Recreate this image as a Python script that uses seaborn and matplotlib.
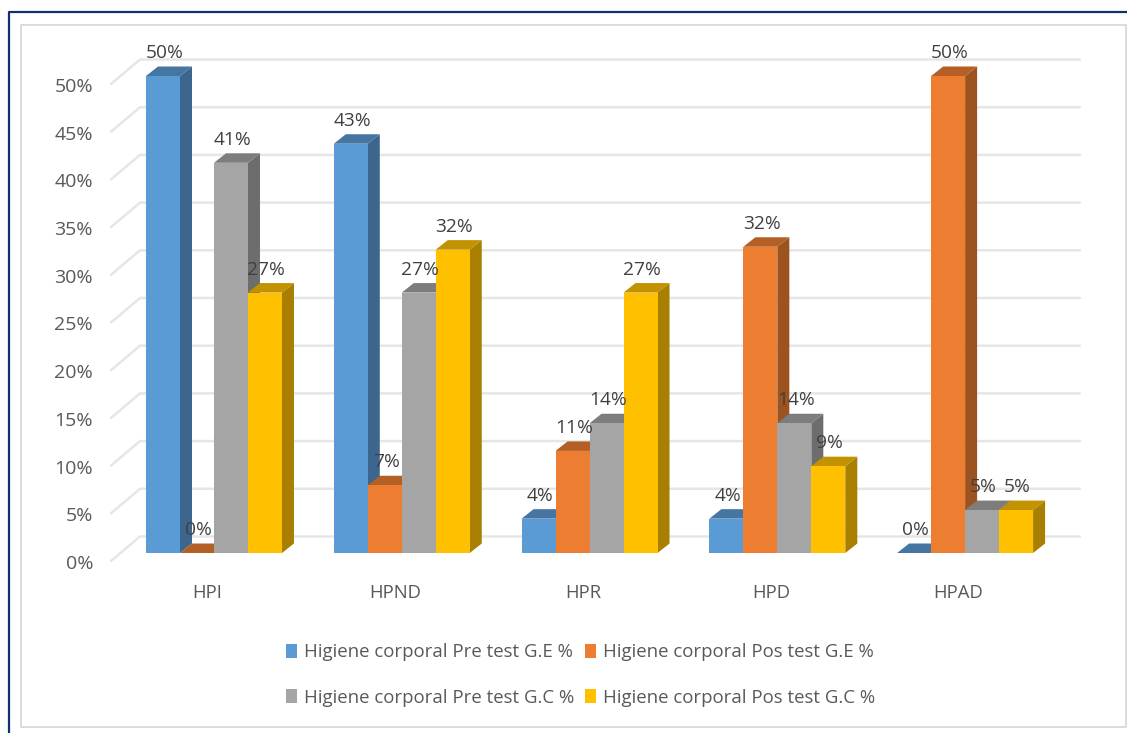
import matplotlib
matplotlib.use("Agg")
import matplotlib.pyplot as plt
import pandas as pd
import seaborn as sns
from matplotlib.colors import to_rgb
from matplotlib.lines import Line2D
from matplotlib.transforms import ScaledTranslation

categories = ["HPI", "HPND", "HPR", "HPD", "HPAD"]
series_names = [
    "Higiene corporal Pre test G.E %",
    "Higiene corporal Pos test G.E %",
    "Higiene corporal Pre test G.C %",
    "Higiene corporal Pos test G.C %",
]
pre_ge = [50.0, 42.9, 3.6, 3.6, 0.0]
pos_ge = [0.0, 7.1, 10.7, 32.1, 50.0]
pre_gc = [40.9, 27.3, 13.6, 13.6, 4.5]
pos_gc = [27.3, 31.8, 27.3, 9.1, 4.5]
y_ticks = [0, 5, 10, 15, 20, 25, 30, 35, 40, 45, 50]
colors = ["#5B9BD5", "#ED7D31", "#A5A5A5", "#FFC000"]

W, H = 1127, 733
FONT = "Open Sans"

sns.set_theme(style="white")
plt.rcParams["font.family"] = [FONT, "DejaVu Sans"]

long = pd.DataFrame({"cat": categories, series_names[0]: pre_ge, series_names[1]: pos_ge,
                     series_names[2]: pre_gc, series_names[3]: pos_gc})
long = long.melt(id_vars="cat", var_name="serie", value_name="pct")

fig = plt.figure(figsize=(W / 100, H / 100), dpi=100)
# axes placed so 0-50 runs over the front plane of the bars
ax = fig.add_axes([120.1 / W, 1 - 553 / H, 938.9 / W, 477 / H])
sns.barplot(data=long, x="cat", y="pct", hue="serie", hue_order=series_names,
            palette=colors, saturation=1, width=0.724, gap=0, errorbar=None,
            legend=False, linewidth=0, edgecolor="none", ax=ax)
ax.set_xlim(-0.5, 4.5)
ax.set_ylim(0, 50)
ax.set_xlabel("")
ax.set_ylabel("")
sns.despine(ax=ax, left=True, bottom=True)
ax.patch.set_alpha(0)

PX_Y = 50 / 477
PX_X = 1 / 187.75
DX, DY = 12 * PX_X, 9.5 * PX_Y


def shade(color, f):
    return tuple(c * f for c in to_rgb(color))


# fake 3D: side and top faces added to every bar
for i, cont in enumerate(ax.containers):
    for b in cont:
        x0, x1 = b.get_x(), b.get_x() + b.get_width()
        h = b.get_height()
        b.set_zorder(4 + 2 * i)
        ax.fill([x1, x1 + DX, x1 + DX, x1], [0, DY, h + DY, h], color=shade(colors[i], 0.66),
                lw=0, zorder=3 + 2 * i, clip_on=False)
        ax.fill([x0, x1, x1 + DX, x0 + DX], [h, h, h + DY, h + DY], color=shade(colors[i], 0.76),
                lw=0, zorder=3 + 2 * i, clip_on=False)
    labels = [f"{int(v + 0.5)}%" for v in cont.datavalues]
    for lab in ax.bar_label(cont, labels=labels, padding=10, fontsize=13.8, color="#404040", zorder=30):
        lab.set_x(1)

# back wall gridlines with the diagonal side wall
tr = ax.get_yaxis_transform()
x_back, x_side, x_end = (140 - 120.1) / 938.9, (111 - 120.1) / 938.9, (1080 - 120.1) / 938.9
for t in y_ticks:
    ax.plot([x_side, x_back, x_end], [t - 8 * PX_Y, t + 16.5 * PX_Y, t + 16.5 * PX_Y],
            transform=tr, color="#E6E6E6", lw=1.8, zorder=1, clip_on=False)

ax.set_yticks(y_ticks, [f"{t}%" for t in y_ticks])
ax.tick_params(axis="y", length=0, pad=19.5, labelsize=14, labelcolor="#595959")
ax.tick_params(axis="x", length=0, pad=22, labelsize=13.3, labelcolor="#595959")
for lab in ax.get_yticklabels():
    lab.set_transform(lab.get_transform() + ScaledTranslation(0, -9 / 100, fig.dpi_scale_trans))
for lab in ax.get_xticklabels():
    lab.set_transform(lab.get_transform() + ScaledTranslation(-6.5 / 100, 0, fig.dpi_scale_trans))

# legend fills by column, so blue/grey first to get the rows right
order = [0, 2, 1, 3]
fig.legend(handles=[ax.containers[i][0] for i in order], labels=[series_names[i] for i in order],
           ncol=2, loc="center", bbox_to_anchor=(580.5 / W, 1 - 675 / H), frameon=False,
           fontsize=13.45, labelcolor="#595959", handlelength=0.6, handleheight=0.8,
           handletextpad=0.38, columnspacing=0.55, labelspacing=1.45, borderpad=0)

# frames of the pasted picture
dark = "#12306F"
fig.add_artist(Line2D([8.5 / W, 8.5 / W, 1], [0, 1 - 11.5 / H, 1 - 11.5 / H], color=dark, lw=1.6))
fig.add_artist(Line2D([1126 / W, 20.5 / W, 20.5 / W, 1126 / W, 1126 / W],
                      [1 - 24.5 / H, 1 - 24.5 / H, 1 - 727 / H, 1 - 727 / H, 1 - 24.5 / H],
                      color="#DCDCDC", lw=1.4))

fig.savefig("out.png", dpi=100)
